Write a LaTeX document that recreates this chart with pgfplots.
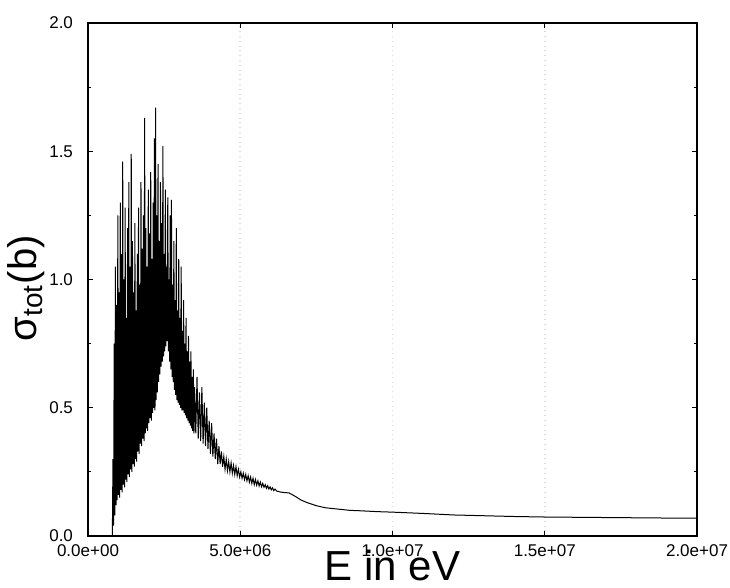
\documentclass[border=0pt]{standalone}
\usepackage{fontspec}
\setmainfont{Liberation Sans}
\usepackage{pgfplots}
\pgfplotsset{compat=1.18}
\usetikzlibrary{calc}

% total cross section, E in MeV (tick labels give eV)
\pgfplotstableread{
E sigma
0.80 0.00
0.82 0.30
0.84 0.04
0.86 0.75
0.88 0.08
0.90 1.05
0.92 0.12
0.94 0.90
0.96 0.14
0.98 1.25
1.00 0.16
1.02 0.95
1.04 0.15
1.06 1.30
1.08 0.18
1.10 1.10
1.12 0.17
1.14 1.46
1.16 0.20
1.18 1.00
1.20 0.19
1.22 1.28
1.24 0.22
1.26 0.85
1.28 0.21
1.30 1.20
1.32 0.24
1.34 1.38
1.36 0.23
1.38 1.05
1.40 0.26
1.42 1.49
1.44 0.25
1.46 1.15
1.48 0.28
1.50 0.95
1.52 0.27
1.54 1.22
1.56 0.30
1.58 0.88
1.60 0.29
1.62 1.10
1.64 0.33
1.66 1.28
1.68 0.32
1.70 0.98
1.72 0.36
1.74 1.38
1.76 0.35
1.78 1.12
1.80 0.38
1.82 1.25
1.84 0.37
1.86 1.63
1.88 0.40
1.90 1.20
1.92 0.42
1.94 1.05
1.96 0.41
1.98 1.35
2.00 0.44
2.02 1.18
2.04 0.46
2.06 1.42
2.08 0.45
2.10 1.08
2.12 0.48
2.14 1.30
2.16 0.50
2.18 1.55
2.20 0.49
2.22 1.67
2.24 0.53
2.26 1.25
2.28 0.56
2.30 1.45
2.32 0.60
2.34 1.15
2.36 0.63
2.38 1.38
2.40 0.66
2.42 1.22
2.44 0.68
2.46 1.52
2.48 0.70
2.50 1.10
2.52 0.72
2.54 1.35
2.56 0.74
2.58 1.05
2.60 0.76
2.62 1.32
2.64 0.72
2.66 1.00
2.68 0.68
2.70 1.25
2.72 0.65
2.74 1.31
2.76 0.62
2.78 0.98
2.80 0.60
2.82 1.15
2.84 0.57
2.86 0.92
2.88 0.55
2.90 1.20
2.92 0.53
2.94 0.88
2.96 0.52
2.98 1.08
3.00 0.51
3.02 0.85
3.04 0.50
3.06 1.05
3.08 0.49
3.10 0.80
3.12 0.49
3.14 0.92
3.16 0.48
3.18 0.75
3.20 0.47
3.22 0.85
3.24 0.46
3.26 0.72
3.28 0.45
3.30 0.78
3.32 0.44
3.34 0.68
3.36 0.43
3.38 0.72
3.40 0.42
3.42 0.62
3.44 0.41
3.46 0.65
3.48 0.40
3.50 0.58
3.54 0.40
3.58 0.62
3.62 0.38
3.66 0.56
3.70 0.37
3.74 0.58
3.78 0.36
3.82 0.52
3.86 0.35
3.90 0.50
3.94 0.34
3.98 0.45
4.02 0.32
4.06 0.44
4.10 0.31
4.14 0.40
4.18 0.30
4.22 0.38
4.26 0.28
4.30 0.35
4.34 0.28
4.38 0.33
4.42 0.27
4.46 0.31
4.50 0.26
4.54 0.30
4.58 0.255
4.62 0.29
4.66 0.25
4.70 0.285
4.74 0.245
4.78 0.275
4.82 0.24
4.86 0.27
4.90 0.235
4.94 0.26
4.98 0.23
5.02 0.25
5.06 0.225
5.10 0.245
5.14 0.22
5.18 0.24
5.22 0.215
5.26 0.235
5.30 0.21
5.34 0.23
5.38 0.205
5.42 0.225
5.46 0.20
5.50 0.22
5.54 0.198
5.58 0.215
5.62 0.195
5.66 0.21
5.70 0.192
5.74 0.205
5.78 0.19
5.82 0.20
5.86 0.186
5.90 0.196
5.94 0.183
5.98 0.192
6.02 0.18
6.06 0.188
6.10 0.177
6.14 0.183
6.20 0.175
6.30 0.172
6.40 0.170
6.60 0.168
6.80 0.155
7.00 0.14
7.20 0.13
7.50 0.118
7.80 0.11
8.20 0.105
8.60 0.10
9.00 0.098
9.50 0.095
10.0 0.093
11.0 0.088
12.0 0.082
13.0 0.079
14.0 0.076
15.0 0.074
16.0 0.073
17.0 0.072
18.0 0.071
19.0 0.070
20.0 0.070
}\sigtot

\begin{document}
\begin{tikzpicture}
\begin{axis}[
    width=304.5pt, height=256.5pt, scale only axis,
    xmin=0, xmax=20, ymin=0, ymax=2,
    xtick={0,5,10,15,20},
    xticklabels={0.0e+00,5.0e+06,1.0e+07,1.5e+07,2.0e+07},
    ytick={0,0.5,1,1.5,2},
    yticklabels={0.0,0.5,1.0,1.5,2.0},
    minor y tick num=1,
    tick align=inside,
    major tick length=2.5pt, minor tick length=1.5pt,
    tick style={black, line width=0.5pt},
    ticklabel style={font=\fontsize{8.5}{10}\selectfont},
    xticklabel style={yshift=-1pt},
    yticklabel style={xshift=-4pt},
    xmajorgrids,
    grid style={gray!30, dotted, line width=0.8pt},
    axis line style={line width=0.6pt},
    xlabel={E in eV},
    xlabel style={font=\fontsize{21}{21}\selectfont, inner sep=0pt,
        at={(axis description cs:0.5,-0.027)}, anchor=north},
    ylabel={σ\textsubscript{tot}(b)},
    ylabel style={font=\fontsize{20}{20}\selectfont, inner sep=0pt,
        at={(axis description cs:-0.0706,0.483)}, anchor=south},
]
\addplot[black, line width=0.5pt] table[x=E, y=sigma] {\sigtot};
\coordinate (sw) at (rel axis cs:0,0);
\coordinate (ne) at (rel axis cs:1,1);
\end{axis}
\pgfresetboundingbox
\path[use as bounding box] ($(sw)+(-44pt,-25.5pt)$) rectangle ($(ne)+(16.5pt,11.5pt)$);
\end{tikzpicture}
\end{document}
